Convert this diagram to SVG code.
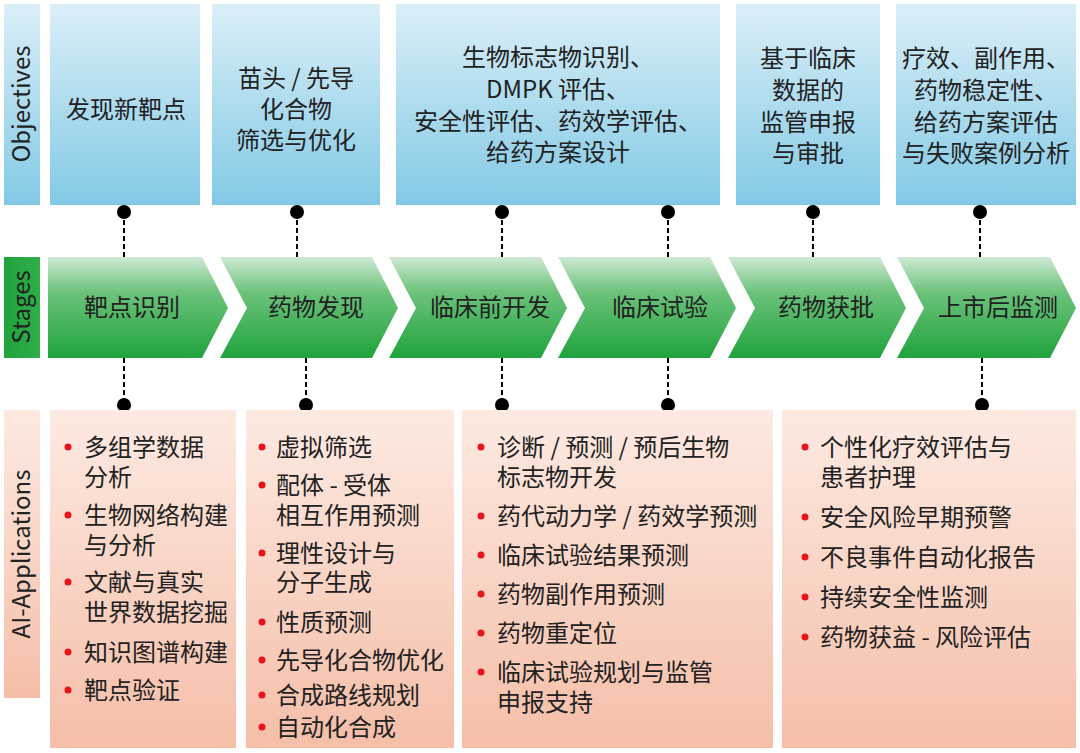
<svg xmlns="http://www.w3.org/2000/svg" width="1080" height="753" viewBox="0 0 1080 753">
<defs>
<linearGradient id="gb" x1="0" y1="0" x2="0" y2="1"><stop offset="0" stop-color="#dbeff8"/><stop offset="1" stop-color="#82c9e5"/></linearGradient>
<linearGradient id="gg" x1="0" y1="0" x2="0" y2="1"><stop offset="0" stop-color="#cfe9d3"/><stop offset="0.35" stop-color="#6cc27b"/><stop offset="1" stop-color="#1fa33c"/></linearGradient>
<linearGradient id="gp" x1="0" y1="0" x2="0" y2="1"><stop offset="0" stop-color="#fdeae2"/><stop offset="1" stop-color="#f5bea8"/></linearGradient>
<linearGradient id="gl" x1="0" y1="0" x2="1" y2="0"><stop offset="0" stop-color="#1fa33c"/><stop offset="1" stop-color="#2fae4a"/></linearGradient>
</defs>
<style>
text{font-family:"Noto Sans CJK SC","Liberation Sans",sans-serif;fill:#222;font-size:24px}
.c{text-anchor:middle}
.lab{font-size:24px;text-anchor:middle}
.b{fill:url(#gb)}
.p{fill:url(#gp)}
.g{fill:url(#gg)}
.d{stroke:#000;stroke-width:2;stroke-dasharray:5,3}
.bul{fill:#e8141c}
</style>
<g id="labels">
<rect x="4" y="4" width="36" height="201" class="b"/>
<text class="lab" transform="translate(30,104) rotate(-90)">Objectives</text>
<rect x="4" y="257" width="36" height="101" fill="url(#gl)"/>
<text class="lab" transform="translate(30,307) rotate(-90)">Stages</text>
<rect x="4" y="410" width="36" height="288" class="p"/>
<text class="lab" transform="translate(30,554) rotate(-90)">AI-Applications</text>
</g>
<g id="objectives">
<g id="obj1"><rect x="50" y="4" width="150" height="201" class="b"/><text class="c" x="126" y="118">发现新靶点</text></g>
<g id="obj2"><rect x="212" y="4" width="168" height="201" class="b"/><text class="c" x="296" y="87">苗头 / 先导</text><text class="c" x="296" y="118">化合物</text><text class="c" x="296" y="149">筛选与优化</text></g>
<g id="obj3"><rect x="396" y="4" width="324" height="201" class="b"/><text class="c" x="558" y="66">生物标志物识别、</text><text class="c" x="558" y="98">DMPK 评估、</text><text class="c" x="558" y="130">安全性评估、药效学评估、</text><text class="c" x="558" y="161">给药方案设计</text></g>
<g id="obj4"><rect x="736" y="4" width="144" height="201" class="b"/><text class="c" x="808" y="67">基于临床</text><text class="c" x="808" y="99">数据的</text><text class="c" x="808" y="131">监管申报</text><text class="c" x="808" y="162">与审批</text></g>
<g id="obj5"><rect x="896" y="4" width="180" height="201" class="b"/><text class="c" x="986" y="67">疗效、副作用、</text><text class="c" x="986" y="99">药物稳定性、</text><text class="c" x="986" y="131">给药方案评估</text><text class="c" x="986" y="162">与失败案例分析</text></g>
</g>
<g id="connectors">
<line class="d" x1="124" y1="212" x2="124" y2="257"/>
<line class="d" x1="297" y1="212" x2="297" y2="257"/>
<line class="d" x1="502" y1="212" x2="502" y2="257"/>
<line class="d" x1="668" y1="212" x2="668" y2="257"/>
<line class="d" x1="813" y1="212" x2="813" y2="257"/>
<line class="d" x1="980" y1="212" x2="980" y2="257"/>
<line class="d" x1="124" y1="358" x2="124" y2="405"/>
<line class="d" x1="306" y1="358" x2="306" y2="405"/>
<line class="d" x1="502" y1="358" x2="502" y2="405"/>
<line class="d" x1="668" y1="358" x2="668" y2="405"/>
<line class="d" x1="982" y1="358" x2="982" y2="405"/>
<g fill="#000">
<circle cx="124" cy="212" r="7"/><circle cx="297" cy="212" r="7"/><circle cx="502" cy="212" r="7"/><circle cx="668" cy="212" r="7"/><circle cx="813" cy="212" r="7"/><circle cx="980" cy="212" r="7"/>
<circle cx="124" cy="405" r="7"/><circle cx="306" cy="405" r="7"/><circle cx="502" cy="405" r="7"/><circle cx="668" cy="405" r="7"/><circle cx="982" cy="405" r="7"/>
</g>
</g>
<g id="stages">
<g id="s1"><polygon class="g" points="48,257 202,257 228,308 202,358 48,358"/><text class="c" x="132" y="316">靶点识别</text></g>
<g id="s2"><polygon class="g" points="220,257 372,257 398,308 372,358 220,358 247,308"/><text class="c" x="316" y="316">药物发现</text></g>
<g id="s3"><polygon class="g" points="389,257 541,257 567,308 541,358 389,358 416,308"/><text class="c" x="490" y="316">临床前开发</text></g>
<g id="s4"><polygon class="g" points="558,257 710,257 736,308 710,358 558,358 585,308"/><text class="c" x="660" y="316">临床试验</text></g>
<g id="s5"><polygon class="g" points="728,257 880,257 906,308 880,358 728,358 755,308"/><text class="c" x="826" y="316">药物获批</text></g>
<g id="s6"><polygon class="g" points="897,257 1050,257 1076,308 1050,358 897,358 924,308"/><text class="c" x="998" y="316">上市后监测</text></g>
</g>
<g id="app1"><rect x="50" y="410" width="186" height="338" class="p"/>
<g class="bul"><circle cx="68" cy="447" r="3.5"/><circle cx="68" cy="515" r="3.5"/><circle cx="68" cy="582" r="3.5"/><circle cx="68" cy="652" r="3.5"/><circle cx="68" cy="690" r="3.5"/></g>
<text x="84" y="456">多组学数据</text><text x="84" y="486">分析</text><text x="84" y="524">生物网络构建</text><text x="84" y="554">与分析</text><text x="84" y="591">文献与真实</text><text x="84" y="621">世界数据挖掘</text><text x="84" y="661">知识图谱构建</text><text x="84" y="699">靶点验证</text></g>
<g id="app2"><rect x="246" y="410" width="208" height="338" class="p"/>
<g class="bul"><circle cx="262" cy="447" r="3.5"/><circle cx="262" cy="485" r="3.5"/><circle cx="262" cy="553" r="3.5"/><circle cx="262" cy="622" r="3.5"/><circle cx="262" cy="660" r="3.5"/><circle cx="262" cy="695" r="3.5"/><circle cx="262" cy="727" r="3.5"/></g>
<text x="276" y="456">虚拟筛选</text><text x="276" y="494">配体 - 受体</text><text x="276" y="524">相互作用预测</text><text x="276" y="562">理性设计与</text><text x="276" y="591">分子生成</text><text x="276" y="631">性质预测</text><text x="276" y="669">先导化合物优化</text><text x="276" y="704">合成路线规划</text><text x="276" y="736">自动化合成</text></g>
<g id="app3"><rect x="462" y="410" width="311" height="338" class="p"/>
<g class="bul"><circle cx="481" cy="447" r="3.5"/><circle cx="481" cy="516" r="3.5"/><circle cx="481" cy="555" r="3.5"/><circle cx="481" cy="594" r="3.5"/><circle cx="481" cy="633" r="3.5"/><circle cx="481" cy="672" r="3.5"/></g>
<text x="497" y="456">诊断 / 预测 / 预后生物</text><text x="497" y="486">标志物开发</text><text x="497" y="525">药代动力学 / 药效学预测</text><text x="497" y="564">临床试验结果预测</text><text x="497" y="603">药物副作用预测</text><text x="497" y="642">药物重定位</text><text x="497" y="681">临床试验规划与监管</text><text x="497" y="711">申报支持</text></g>
<g id="app4"><rect x="782" y="410" width="294" height="338" class="p"/>
<g class="bul"><circle cx="805" cy="447" r="3.5"/><circle cx="805" cy="517" r="3.5"/><circle cx="805" cy="557" r="3.5"/><circle cx="805" cy="597" r="3.5"/><circle cx="805" cy="637" r="3.5"/></g>
<text x="820" y="456">个性化疗效评估与</text><text x="820" y="486">患者护理</text><text x="820" y="526">安全风险早期预警</text><text x="820" y="566">不良事件自动化报告</text><text x="820" y="606">持续安全性监测</text><text x="820" y="646">药物获益 - 风险评估</text></g>
</svg>
